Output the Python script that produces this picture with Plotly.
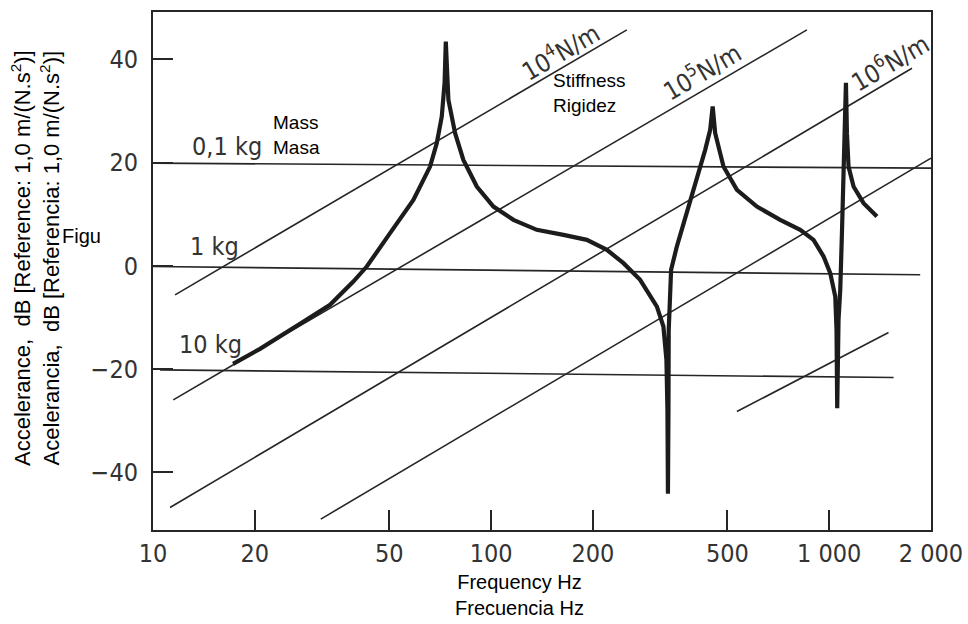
import plotly.graph_objects as go

# ---------------- data ----------------
# Measured accelerance curve (frequency in Hz, level in dB)
curve_freq = [17.25, 20.73, 27.22, 33.40, 39.06, 42.88, 50.25, 58.90, 65.99, 69.07,
              71.46, 72.84, 73.45, 74.10, 74.76, 78.25, 82.79, 90.72, 101.6, 116.4,
              136.5, 163.7, 191.9, 220.0, 246.3, 275.9, 309.3, 323.3, 330.0, 332.3,
              333.4, 334.6, 335.2, 337.3, 340.7, 354.2, 379.3, 406.1, 429.7, 444.6,
              452.2, 460.0, 486.7, 533.4, 611.1, 716.1, 820.8, 898.7, 962.5, 1007,
              1042, 1051, 1054, 1056, 1060, 1065.5, 1078, 1090.5, 1102.4, 1115.2,
              1120.6, 1128.3, 1140.6, 1180.1, 1263.5, 1384]
curve_db = [-18.99, -16.09, -11.24, -7.56, -3.10, -0.14, 6.34, 12.79, 19.24, 23.78,
            28.93, 35.47, 43.47, 35.47, 32.17, 25.72, 20.54, 15.37, 11.49, 8.91,
            6.98, 6.01, 5.04, 3.10, 0.52, -2.71, -7.89, -11.76, -18.22, -27.91,
            -44.19, -27.91, -12.40, -5.23, -0.78, 3.74, 10.21, 17.31, 22.48, 26.36,
            30.91, 25.72, 19.24, 14.73, 11.49, 8.91, 6.98, 5.04, 1.80, -1.41,
            -5.95, -12.40, -20.16, -27.58, -20.16, -10.47, -4.65, 6.34, 16.03, 25.72,
            35.47, 25.72, 19.24, 15.37, 12.15, 9.55]

# Mass lines (horizontal reference lines)
mass_labels = ["0,1 kg", "1 kg", "10 kg"]
mass_freq_start = [10.0, 10.0, 10.49]
mass_freq_end = [2000.0, 1858.0, 1550.0]
mass_db_start = [19.90, -0.14, -20.16]
mass_db_end = [18.93, -1.74, -21.65]

# Stiffness lines (sloping reference lines)
stiff_labels = ["10<sup>4</sup>N/m", "10<sup>5</sup>N/m", "10<sup>6</sup>N/m", "", ""]
stiff_freq_start = [11.62, 11.48, 11.23, 31.35, 533.4]
stiff_db_start = [-5.62, -25.97, -46.84, -49.09, -28.24]
stiff_freq_end = [252.0, 859.0, 1757.0, 2000.0, 1497.6]
stiff_db_end = [45.74, 45.74, 38.31, 20.87, -12.93]

x_tickvals = [10, 20, 50, 100, 200, 500, 1000, 2000]
x_ticktext = ["10", "20", "50", "100", "200", "500", "1 000", "2 000"]
y_tickvals = [-40, -20, 0, 20, 40]

# ---------------- figure ----------------
W, H = 968, 624
L, R, T, B = 153, 37, 12, 94
PW, PH = W - L - R, H - T - B


def px(x):
    return (x - L) / PW


def py(y):
    return (H - B - y) / PH


INK = "#262626"
THIN = 1.6
NARROW = "DejaVu Sans Condensed, Liberation Sans Narrow, sans-serif"
ARIAL = "Liberation Sans, Arial, sans-serif"

fig = go.Figure()

for i in range(len(mass_labels)):
    fig.add_trace(go.Scatter(
        x=[mass_freq_start[i], mass_freq_end[i]],
        y=[mass_db_start[i], mass_db_end[i]],
        mode="lines", line=dict(color=INK, width=THIN), hoverinfo="skip"))

for i in range(len(stiff_labels)):
    fig.add_trace(go.Scatter(
        x=[stiff_freq_start[i], stiff_freq_end[i]],
        y=[stiff_db_start[i], stiff_db_end[i]],
        mode="lines", line=dict(color=INK, width=THIN), hoverinfo="skip"))

fig.add_trace(go.Scatter(
    x=curve_freq, y=curve_db, mode="lines",
    line=dict(color="#1c1c1c", width=4.2)))

axis_common = dict(
    showline=True, mirror=True, linecolor=INK, linewidth=2,
    ticks="inside", ticklen=20, tickwidth=1.6, tickcolor=INK,
    showgrid=False, zeroline=False,
    tickfont=dict(family=NARROW, size=25, color="#333333"),
)

fig.update_xaxes(type="log", range=[1, 3.30103], tickvals=x_tickvals,
                 ticktext=x_ticktext, ticklabelstandoff=0, **axis_common)
fig.update_yaxes(range=[-51.2, 49.2], tickvals=y_tickvals,
                 ticklabelstandoff=8, **axis_common)

ann = []
# mass labels
mass_pos = [(190, 146), (188, 246), (177, 345)]
for lab, (x, y) in zip(mass_labels, mass_pos):
    ann.append(dict(text=lab, x=px(x), y=py(y), xanchor="left", yanchor="middle",
                    font=dict(family=NARROW, size=25, color="#333333")))
# stiffness labels
stiff_pos = [(560, 52), (701, 71), (889, 62)]
for lab, (x, y) in zip(stiff_labels[:3], stiff_pos):
    ann.append(dict(text=lab, x=px(x), y=py(y), xanchor="center", yanchor="middle",
                    textangle=-30.5,
                    font=dict(family=NARROW, size=25, color="#333333")))
# overlay texts
ann.append(dict(text="Mass<br>Masa", x=px(271), y=py(135), xanchor="left",
                yanchor="middle", align="left",
                font=dict(family=ARIAL, size=19, color="#000000")))
ann.append(dict(text="Stiffness<br>Rigidez", x=px(551), y=py(93), xanchor="left",
                yanchor="middle", align="left",
                font=dict(family=ARIAL, size=19, color="#000000")))
ann.append(dict(text="Frequency Hz<br>Frecuencia Hz", x=px(519), y=py(595),
                xanchor="center", yanchor="middle", align="center",
                font=dict(family=ARIAL, size=20, color="#000000")))
ann.append(dict(text="Accelerance,&nbsp; dB [Reference: 1,0 m/(N.s<sup>2</sup>)]<br>"
                     "Acelerancia,&nbsp; dB [Referencia: 1,0 m/(N.s<sup>2</sup>)]",
                x=px(35), y=py(258), xanchor="center", yanchor="middle",
                textangle=-90, align="center",
                font=dict(family=ARIAL, size=22, color="#000000")))
ann.append(dict(text="Figu", x=px(60), y=py(236), xanchor="left", yanchor="middle",
                font=dict(family=ARIAL, size=20, color="#000000")))

for a in ann:
    a.update(xref="paper", yref="paper", showarrow=False)

fig.update_layout(
    width=W, height=H, margin=dict(l=L, r=R, t=T, b=B, autoexpand=False),
    paper_bgcolor="white", plot_bgcolor="white", showlegend=False,
    annotations=ann,
)

fig.write_html("out.html")
